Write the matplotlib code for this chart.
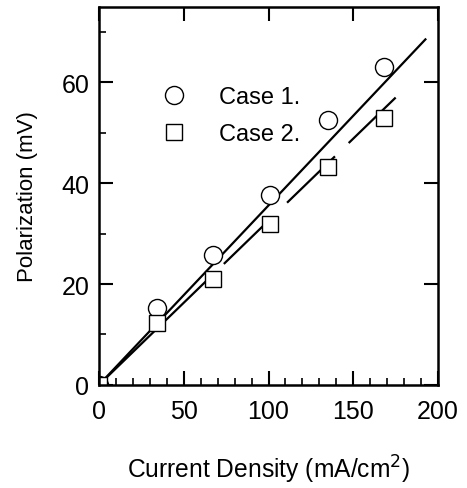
import matplotlib
matplotlib.use('Agg')
import matplotlib.pyplot as plt
from matplotlib.lines import Line2D
from matplotlib.ticker import MultipleLocator

plt.rcParams['font.family'] = ['Liberation Sans', 'DejaVu Sans']

# datos
densidad = [0, 34, 67, 101, 135, 168]
caso1 = [0, 15.2, 25.7, 37.6, 52.5, 63.0]
caso2 = [0, 12.3, 21.0, 32.0, 43.2, 52.9]

# rectas de ajuste (extremos)
ajuste1_x = [0, 193]
ajuste1_y = [0, 68.7]
ajuste2_x = [0, 175]
ajuste2_y = [0, 57.0]

fig = plt.figure(figsize=(4.67, 4.89), dpi=100)
ax = fig.add_axes([0.212, 0.211, 0.726, 0.773])

ax.plot(ajuste1_x, ajuste1_y, color='black', lw=1.6, solid_capstyle='butt')
# trazos irregulares como en el original
ax.plot(ajuste2_x, ajuste2_y, color='black', lw=1.6,
        dashes=[72.8, 5.4, 27.8, 11.8, 30, 8.6, 40, 5])

ax.plot(densidad, caso1, 'o', ms=13, mfc='white', mec='black', mew=1.0, ls='none')
ax.plot(densidad, caso2, 's', ms=11.5, mfc='white', mec='black', mew=1.0, ls='none')

ax.set_xlim(0, 200)
ax.set_ylim(0, 75)
ax.xaxis.set_major_locator(MultipleLocator(50))
ax.xaxis.set_minor_locator(MultipleLocator(10))
ax.yaxis.set_major_locator(MultipleLocator(20))
ax.yaxis.set_minor_locator(MultipleLocator(10))
ax.tick_params(which='major', direction='in', length=10, width=1.5,
               top=True, right=True, labelsize=18)
ax.tick_params(axis='x', which='major', pad=10)
ax.tick_params(axis='y', which='major', pad=7)
ax.tick_params(which='minor', direction='in', length=5, width=1.2,
               top=False, right=False)
for s in ax.spines.values():
    s.set_linewidth(1.8)

ax.set_xlabel('Current Density (mA/cm$^2$)', fontsize=17.7, labelpad=22)
ax.set_ylabel('Polarization (mV)', fontsize=16, labelpad=17)

handles = [Line2D([], [], marker='o', ms=13, mfc='white', mec='black', ls='none'),
           Line2D([], [], marker='s', ms=11.5, mfc='white', mec='black', ls='none')]
ax.legend(handles, ['Case 1.', 'Case 2.'], loc='upper left',
          bbox_to_anchor=(0.09, 0.847), frameon=False, fontsize=17,
          handletextpad=0.88, labelspacing=0.63)

fig.savefig('out.png', dpi=100)
